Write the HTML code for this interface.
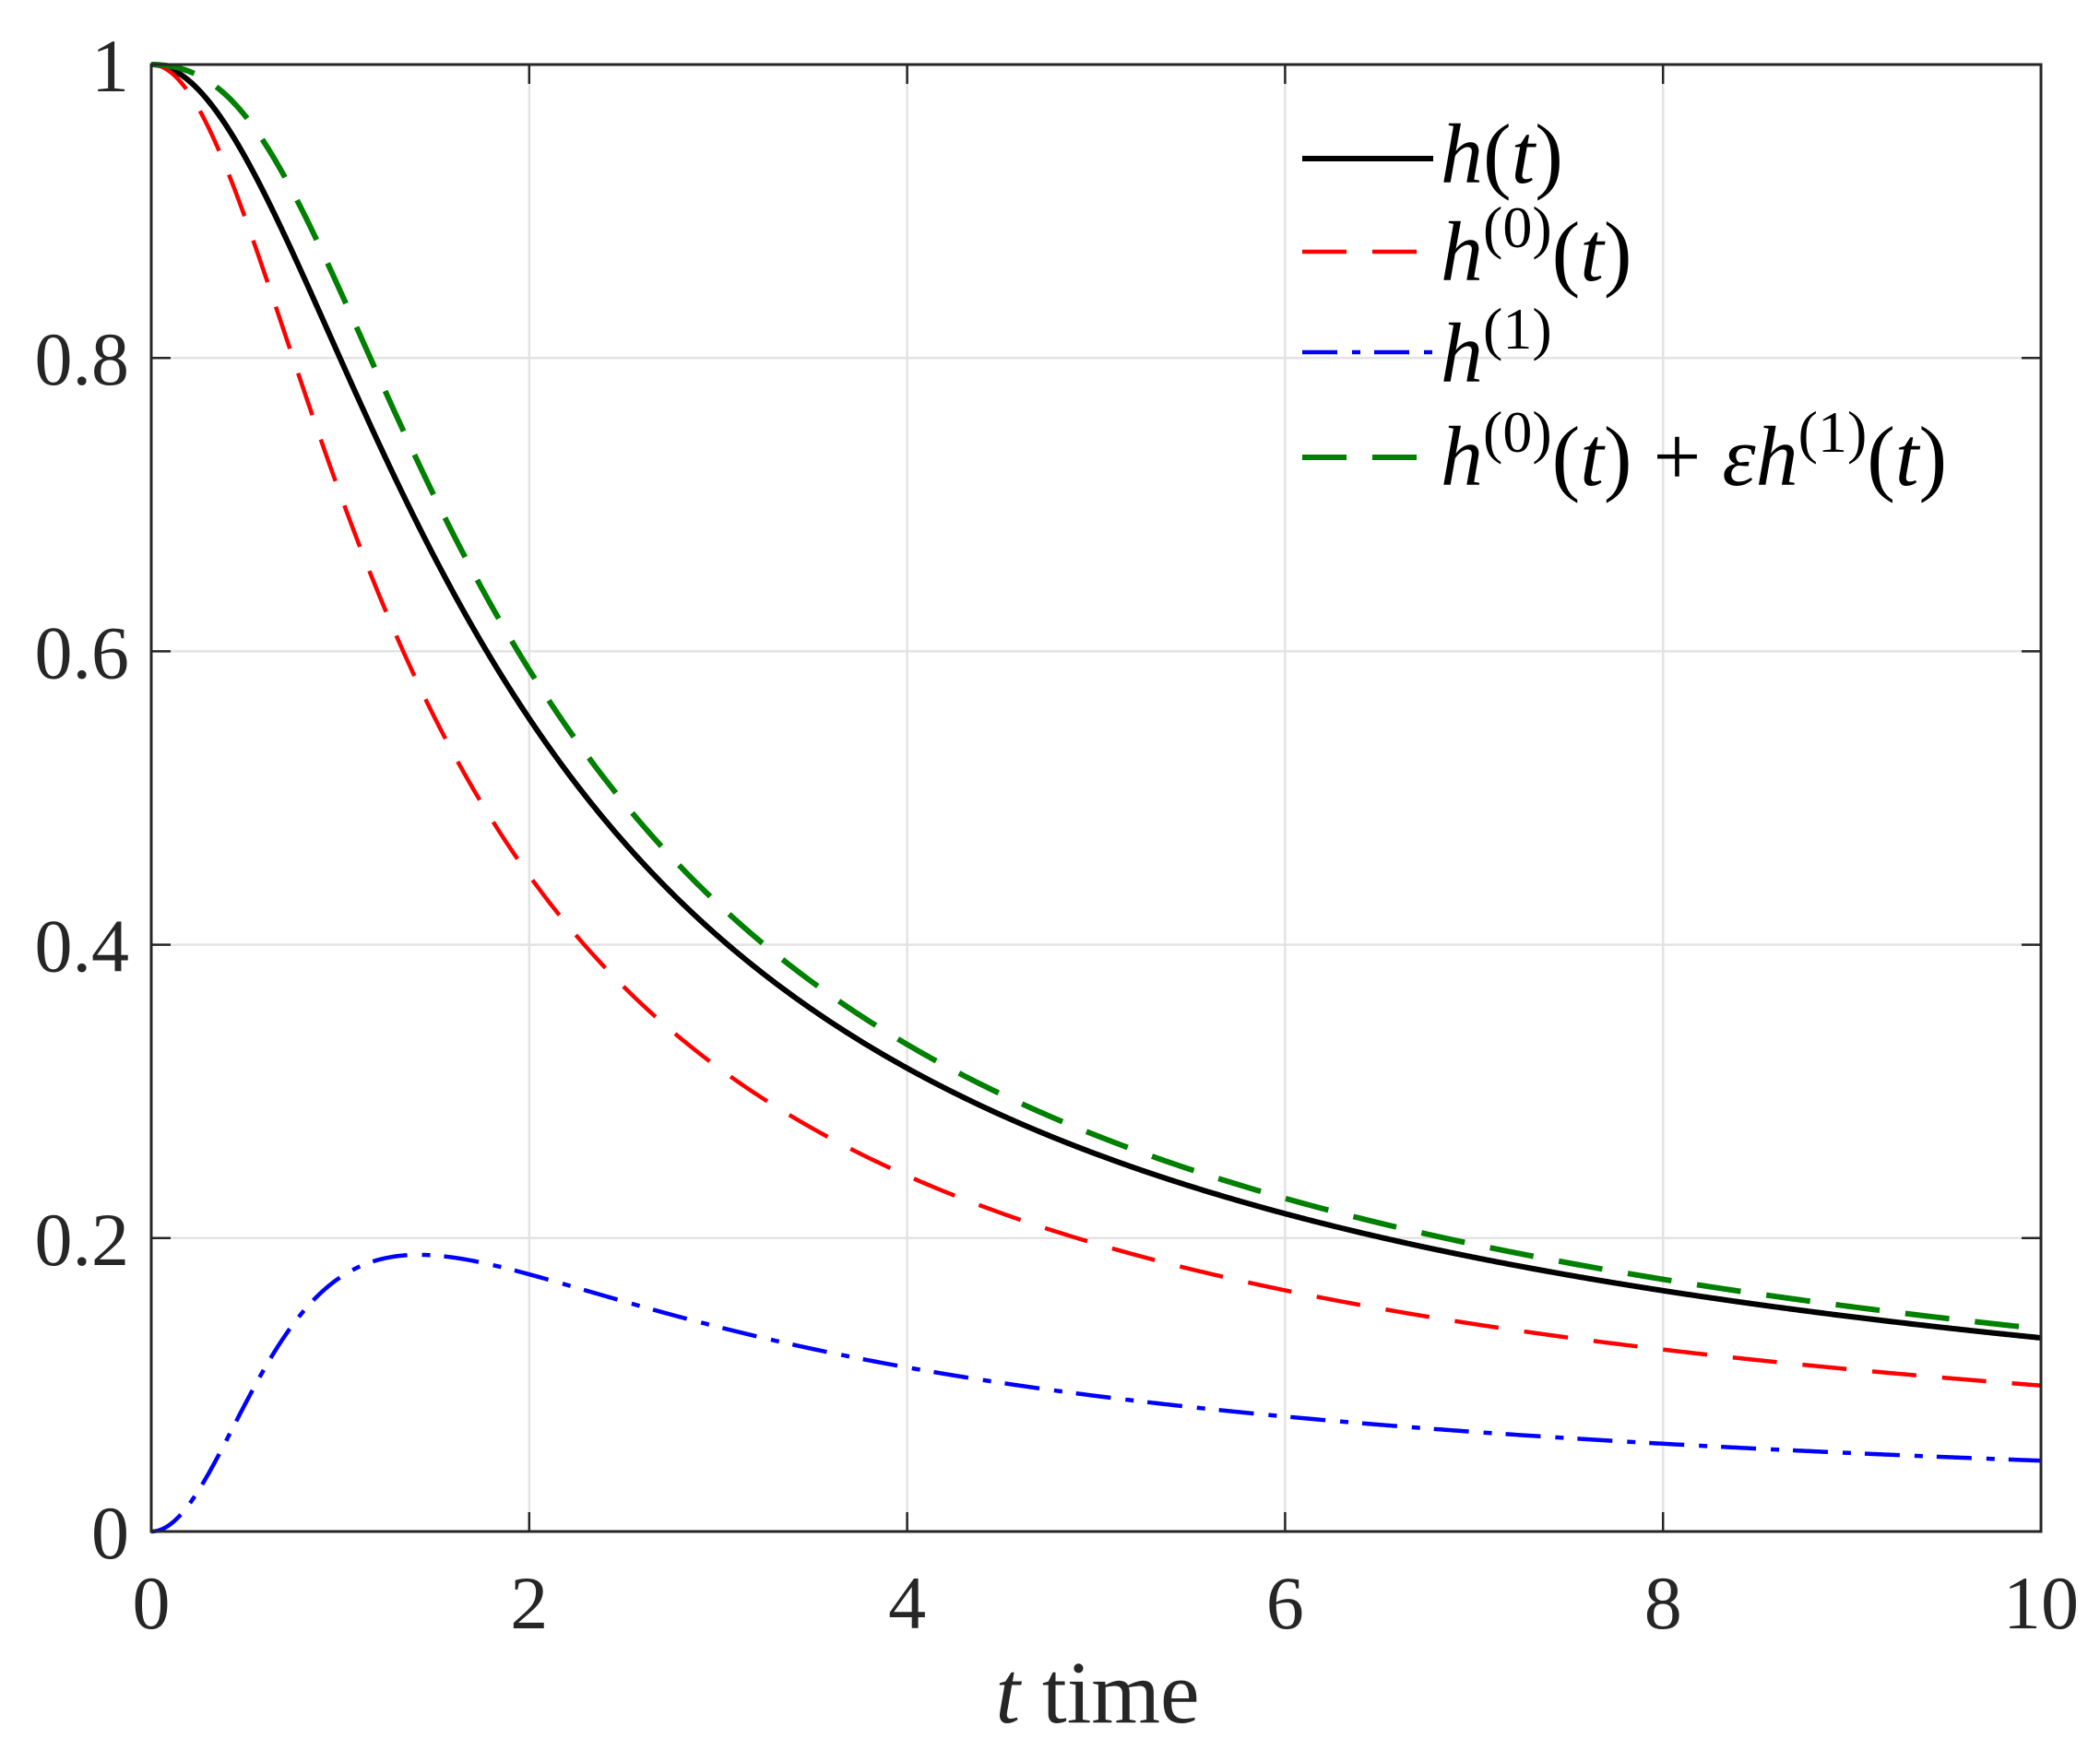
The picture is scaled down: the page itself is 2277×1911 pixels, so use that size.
<!DOCTYPE html>
<html><head><meta charset="utf-8">
<style>
html,body{margin:0;padding:0;background:#fff;}
svg{display:block;}
text{font-family:"Liberation Serif","DejaVu Serif",serif;fill:#262626;}
.lg{font-style:italic;fill:#000;}
</style></head>
<body>
<svg id="s" width="2277" height="1911" viewBox="0 0 2277 1911" xmlns="http://www.w3.org/2000/svg">
<g id="grid" stroke="#e3e3e3" stroke-width="2.5"></g>
<g id="curves" fill="none"></g>
<g id="axes"></g>
<g id="labels" font-size="82"></g>
<text x="1190" y="1868" font-size="96" text-anchor="middle"><tspan font-style="italic">t</tspan> time</text>
<g id="legend">
<line x1="1412" y1="172" x2="1554" y2="172" stroke="#000" stroke-width="6"/>
<line x1="1412" y1="273" x2="1554" y2="273" stroke="#ff0000" stroke-width="4.5" stroke-dasharray="48,28"/>
<line x1="1412" y1="382" x2="1554" y2="382" stroke="#0000ff" stroke-width="4.5" stroke-dasharray="38,16,9,15"/>
<line x1="1412" y1="496" x2="1554" y2="496" stroke="#008000" stroke-width="6" stroke-dasharray="48,28"/>
<text class="lg" x="1562" y="198" font-size="92">h<tspan font-style="normal">(</tspan>t<tspan font-style="normal">)</tspan></text>
<text class="lg" x="1562" y="304" font-size="92">h<tspan font-style="normal" font-size="64" dy="-36">(0)</tspan><tspan font-style="normal" dy="36">(</tspan>t<tspan font-style="normal">)</tspan></text>
<text class="lg" x="1562" y="414" font-size="92">h<tspan font-style="normal" font-size="64" dy="-36">(1)</tspan></text>
<text class="lg" x="1562" y="526" font-size="92">h<tspan font-style="normal" font-size="64" dy="-36">(0)</tspan><tspan font-style="normal" dy="36">(</tspan>t<tspan font-style="normal">) + </tspan>εh<tspan font-style="normal" font-size="64" dy="-36">(1)</tspan><tspan font-style="normal" dy="36">(</tspan>t<tspan font-style="normal">)</tspan></text>
</g>
</svg>
<script>
var X0=164,X1=2213,Y0=1661,Y1=70;
function px(t){return X0+(X1-X0)*t/10;}
function py(v){return Y0-(Y0-Y1)*v;}
var NS="http://www.w3.org/2000/svg";
function el(p,tag,a){var e=document.createElementNS(NS,tag);for(var k in a)e.setAttribute(k,a[k]);document.getElementById(p).appendChild(e);return e;}
for(var i=1;i<5;i++){el("grid","line",{x1:px(2*i),y1:Y0,x2:px(2*i),y2:Y1});}
for(var i=1;i<5;i++){el("grid","line",{x1:X0,y1:py(i*0.2),x2:X1,y2:py(i*0.2)});}
function path(f){var d="";for(var i=0;i<=1000;i++){var t=i/100;d+=(i?"L":"M")+px(t).toFixed(2)+","+py(f(t)).toFixed(2);}return d;}
function h(t){return 1/Math.sqrt(1+0.564*t*t);}
function h0(t){return 1/Math.sqrt(1+t*t);}
function h1(t){return 0.49*t*t/Math.pow(1+t*t,1.5);}
el("curves","path",{d:path(h),stroke:"#000","stroke-width":6});
el("curves","path",{d:path(h0),stroke:"#ff0000","stroke-width":4.5,"stroke-dasharray":"48,28"});
el("curves","path",{d:path(h1),stroke:"#0000ff","stroke-width":4.5,"stroke-dasharray":"38,16,9,15"});
el("curves","path",{d:path(function(t){return h0(t)+0.8*h1(t);}),stroke:"#008000","stroke-width":6,"stroke-dasharray":"48,28"});
el("axes","rect",{x:X0,y:Y1,width:X1-X0,height:Y0-Y1,fill:"none",stroke:"#262626","stroke-width":3});
for(var i=0;i<=5;i++){
 var x=px(2*i);el("axes","line",{x1:x,y1:Y0,x2:x,y2:Y0-21,stroke:"#262626","stroke-width":2.5});
 el("axes","line",{x1:x,y1:Y1,x2:x,y2:Y1+21,stroke:"#262626","stroke-width":2.5});
 var y=py(i*0.2);el("axes","line",{x1:X0,y1:y,x2:X0+21,y2:y,stroke:"#262626","stroke-width":2.5});
 el("axes","line",{x1:X1,y1:y,x2:X1-21,y2:y,stroke:"#262626","stroke-width":2.5});
 var tx=el("labels","text",{x:x,y:1766,"text-anchor":"middle"});tx.textContent=String(2*i);
 var lab=i==0?"0":(i==5?"1":"0."+(2*i));
 var ty=el("labels","text",{x:140,y:y+29,"text-anchor":"end"});ty.textContent=lab;
}
</script>
</body></html>
